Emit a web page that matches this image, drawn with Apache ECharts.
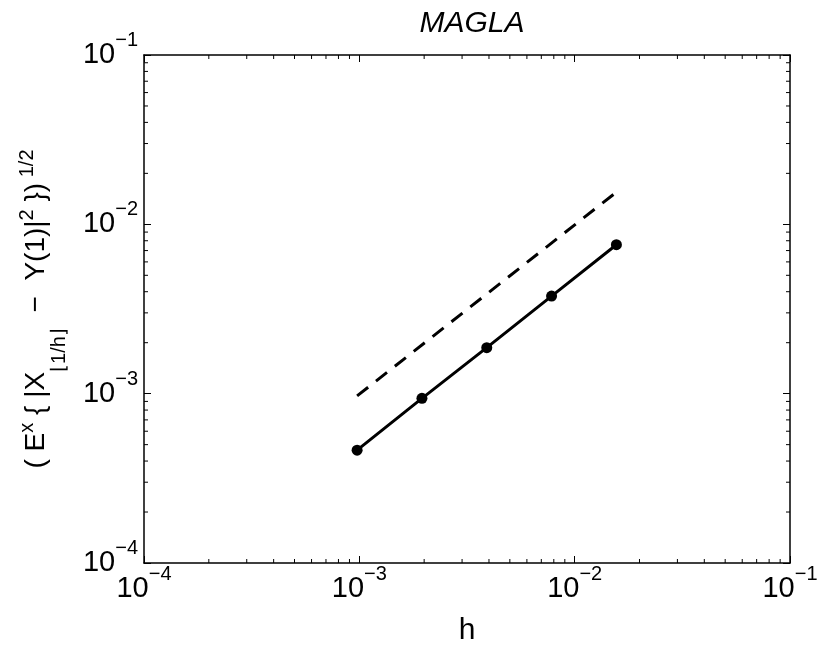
<!DOCTYPE html>
<html>
<head>
<meta charset="utf-8">
<script src="https://cdn.jsdelivr.net/npm/echarts@6/dist/echarts.min.js"></script>
<style>
html,body{margin:0;padding:0;background:#fff;}
#chart{width:817px;height:647px;}
</style>
</head>
<body>
<div id="chart"></div>
<script>
// ---- data ----
const hValues = [0.0009765625, 0.001953125, 0.00390625, 0.0078125, 0.015625];
const errValues = [4.64e-4, 9.38e-4, 1.87e-3, 3.77e-3, 7.58e-3];
const refH = [0.0009765625, 0.015625];
const refValues = [0.00097, 0.0155];
const tickValues = [1e-4, 1e-3, 1e-2, 1e-1];
const tickExponents = ['\u22124', '\u22123', '\u22122', '\u22121'];
const minorTickValues = [
  2e-4, 3e-4, 4e-4, 5e-4, 6e-4, 7e-4, 8e-4, 9e-4,
  2e-3, 3e-3, 4e-3, 5e-3, 6e-3, 7e-3, 8e-3, 9e-3,
  2e-2, 3e-2, 4e-2, 5e-2, 6e-2, 7e-2, 8e-2, 9e-2
];
const titleText = 'MAGLA';
const xName = 'h';
// y label: ( E^x { |X_[1/h] − Y(1)|^2 })^(1/2)
const yName = '{m|( E}{p|x} { |X{u|\u230A1/h\u230B}  \u2212  Y(1)|{p|2} })\u2009{p|1/2}';

const FONT = '"Liberation Sans", Arial, Helvetica, sans-serif';
const AXMIN = 1e-4, AXMAX = 1e-1;

function tickLabel(value) {
  let idx = 0, best = Infinity;
  tickValues.forEach((t, i) => {
    const d = Math.abs(Math.log10(t) - Math.log10(value));
    if (d < best) { best = d; idx = i; }
  });
  return '{b|10}{s|' + tickExponents[idx] + '}';
}
const tickRich = {
  b: { fontSize: 29, lineHeight: 29, verticalAlign: 'bottom', fontFamily: FONT, color: '#000' },
  s: { fontSize: 20, lineHeight: 20, verticalAlign: 'bottom', padding: [0, 0, 19, 0], fontFamily: FONT, color: '#000' }
};

const lineStyleAxis = { color: '#000', width: 1.5 };

function mkAxis(pos, showLabel, extra) {
  return Object.assign({
    type: 'log',
    logBase: 10,
    min: AXMIN,
    max: AXMAX,
    position: pos,
    splitNumber: 3,
    axisLine: { show: true, onZero: false, lineStyle: lineStyleAxis },
    axisTick: { show: true, inside: true, length: 7, lineStyle: { color: '#000', width: 1 } },
    splitLine: { show: false },
    minorTick: { show: false },
    axisLabel: showLabel ? {
      show: true, formatter: tickLabel, rich: tickRich, fontFamily: FONT, color: '#000'
    } : { show: false }
  }, extra || {});
}

const chart = echarts.init(document.getElementById('chart'), null, { renderer: 'canvas' });

const minorData = [];
minorTickValues.forEach(v => minorData.push([v, AXMIN, 0]));
minorTickValues.forEach(v => minorData.push([AXMIN, v, 1]));

const option = {
  backgroundColor: '#fff',
  animation: false,
  title: {
    text: titleText,
    left: 467,
    top: 4,
    textAlign: 'center',
    textStyle: { fontFamily: FONT, fontSize: 30, fontStyle: 'italic', fontWeight: 'normal', color: '#000' }
  },
  grid: { left: 144, right: 27, top: 55, bottom: 84, containLabel: false, outerBoundsMode: 'none' },
  xAxis: [
    mkAxis('bottom', true, {
      name: xName,
      nameLocation: 'middle',
      nameGap: 53,
      nameTextStyle: { fontFamily: FONT, fontSize: 30, color: '#000' },
      axisLabel: { show: true, formatter: tickLabel, rich: tickRich, margin: 11, fontFamily: FONT, color: '#000' }
    }),
    mkAxis('top', false)
  ],
  yAxis: [
    mkAxis('left', true, {
      name: yName,
      nameLocation: 'middle',
      nameRotate: 90,
      nameGap: 75,
      nameTextStyle: {
        fontFamily: FONT, fontSize: 28, lineHeight: 66, color: '#000',
        rich: {
          m: { fontSize: 28, lineHeight: 66, fontFamily: FONT, color: '#000' },
          p: { fontSize: 20, lineHeight: 20, verticalAlign: 'top', padding: [14, 0, 0, 0], fontFamily: FONT, color: '#000' },
          u: { fontSize: 20, lineHeight: 20, verticalAlign: 'bottom', fontFamily: FONT, color: '#000' }
        }
      },
      axisLabel: { show: true, formatter: tickLabel, rich: tickRich, margin: 6, fontFamily: FONT, color: '#000' }
    }),
    mkAxis('right', false)
  ],
  series: [
    {
      type: 'custom',
      xAxisIndex: 0,
      yAxisIndex: 0,
      silent: true,
      clip: false,
      data: minorData,
      renderItem: function (params, api) {
        const kind = api.value(2);
        const style = { stroke: '#000', lineWidth: 1 };
        const L = 4;
        if (kind === 0) {
          const v = api.value(0);
          const a = api.coord([v, AXMIN]);
          const b = api.coord([v, AXMAX]);
          return {
            type: 'group',
            children: [
              { type: 'line', shape: { x1: a[0], y1: a[1], x2: a[0], y2: a[1] - L }, style: style },
              { type: 'line', shape: { x1: b[0], y1: b[1], x2: b[0], y2: b[1] + L }, style: style }
            ]
          };
        } else {
          const v = api.value(1);
          const a = api.coord([AXMIN, v]);
          const b = api.coord([AXMAX, v]);
          return {
            type: 'group',
            children: [
              { type: 'line', shape: { x1: a[0], y1: a[1], x2: a[0] + L, y2: a[1] }, style: style },
              { type: 'line', shape: { x1: b[0], y1: b[1], x2: b[0] - L, y2: b[1] }, style: style }
            ]
          };
        }
      },
      z: 1
    },
    {
      type: 'line',
      xAxisIndex: 0,
      yAxisIndex: 0,
      data: refH.map((h, i) => [h, refValues[i]]),
      symbol: 'none',
      lineStyle: { color: '#000', width: 3, type: [14, 10], cap: 'butt' },
      z: 3
    },
    {
      type: 'line',
      xAxisIndex: 0,
      yAxisIndex: 0,
      data: hValues.map((h, i) => [h, errValues[i]]),
      symbol: 'circle',
      symbolSize: 11,
      itemStyle: { color: '#000' },
      lineStyle: { color: '#000', width: 3 },
      z: 4
    }
  ]
};
chart.setOption(option);
</script>
</body>
</html>
